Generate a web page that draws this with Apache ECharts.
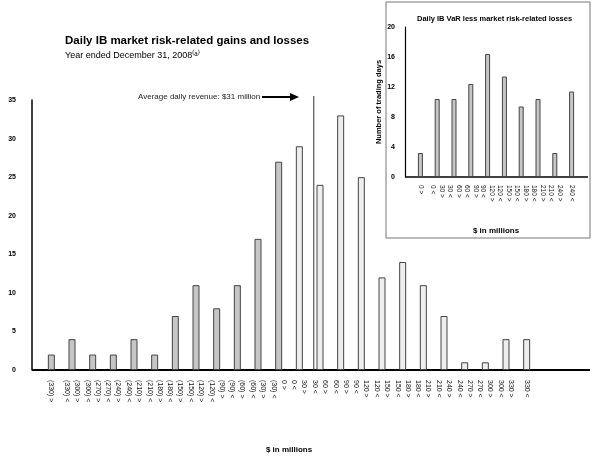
<!DOCTYPE html>
<html>
<head>
<meta charset="utf-8" />
<script src="https://cdn.jsdelivr.net/npm/echarts@6/dist/echarts.min.js"></script>
<style>html,body{margin:0;padding:0;background:#fff}#main{width:595px;height:461px}</style>
</head>
<body>
<div id="main"></div>
<script>
// 主图：损益分布
var mainCats = ['(330) >', '(300) >\n(330) <', '(270) >\n(300) <', '(240) >\n(270) <', '(210) >\n(240) <',
	'(180) >\n(210) <', '(150) >\n(180) <', '(120) >\n(150) <', '(90) >\n(120) <', '(60) >\n(90) <',
	'(30) >\n(60) <', '0 >\n(30) <', '30 >\n0 <', '60 >\n30 <', '90 >\n60 <', '120 >\n90 <',
	'150 >\n120 <', '180 >\n150 <', '210 >\n180 <', '240 >\n210 <', '270 >\n240 <', '300 >\n270 <',
	'330 >\n300 <', '330 <'];
var mainVals = [2, 4, 2, 2, 4, 2, 7, 11, 8, 11, 17, 27, 29, 24, 33, 25, 12, 14, 11, 7, 1, 1, 4, 4];
var mainTicks = [0, 5, 10, 15, 20, 25, 30, 35];
// 小图：VaR 减损失
var insetCats = ['0 >', '30 >\n0 <', '60 >\n30 <', '90 >\n60 <', '120 >\n90 <', '150 >\n120 <',
	'180 >\n150 <', '210 >\n180 <', '240 >\n210 <', '240 <'];
var insetVals = [3.2, 10.4, 10.4, 12.4, 16.4, 13.4, 9.4, 10.4, 3.2, 11.4];
var avgPos = 12.7; // $31 million 平均线位置（类目索引）

var font = 'Liberation Sans Narrow, Liberation Sans, sans-serif';
var chart = echarts.init(document.getElementById('main'));
var option = {
	animation: false,
	textStyle: { fontFamily: font },
	title: [
		{ text: 'Daily IB market risk-related gains and losses', left: 60, top: 30,
			textStyle: { fontSize: 11.5, fontWeight: 'bold', color: '#000', fontFamily: font } },
		{ text: 'Year ended December 31, 2008⁽ᵃ⁾', left: 60, top: 46,
			textStyle: { fontSize: 9, fontWeight: 'normal', color: '#000', fontFamily: font } },
		{ text: 'Daily IB VaR less market risk-related losses', left: 412, top: 10,
			textStyle: { fontSize: 7.5, fontWeight: 'bold', color: '#000', fontFamily: font } }
	],
	grid: [
		{ left: 41, right: 58, top: 100, bottom: 91, outerBoundsMode: 'none' },
		{ left: 412, right: 15, top: 27, bottom: 284, outerBoundsMode: 'none' }
	],
	xAxis: [
		{ type: 'category', gridIndex: 0, data: mainCats,
			axisLine: { show: false }, axisTick: { show: false },
			axisLabel: { rotate: -90, fontSize: 7, color: '#111', interval: 0, lineHeight: 10, margin: 10 },
			name: '$ in millions', nameLocation: 'middle', nameGap: 76,
			nameTextStyle: { fontSize: 8, fontWeight: 'bold', color: '#000' } },
		{ type: 'category', gridIndex: 1, data: insetCats,
			axisLine: { show: false }, axisTick: { show: false },
			axisLabel: { rotate: -90, fontSize: 6.5, color: '#111', interval: 0, lineHeight: 9, margin: 8 },
			name: '$ in millions', nameLocation: 'middle', nameGap: 50,
			nameTextStyle: { fontSize: 8, fontWeight: 'bold', color: '#000' } }
	],
	yAxis: [
		{ type: 'value', gridIndex: 0, min: 0, max: 35, interval: 5, offset: 9,
			axisLine: { show: true, lineStyle: { color: '#000', width: 1.5 } }, axisTick: { show: false },
			splitLine: { show: false },
			axisLabel: { fontSize: 7, fontWeight: 'bold', color: '#000', margin: 16 },
			name: 'Number of trading days', nameLocation: 'middle', nameGap: 24,
			nameTextStyle: { fontSize: 8, fontWeight: 'bold', color: '#000' } },
		{ type: 'value', gridIndex: 1, min: 0, max: 20, interval: 4, offset: 7,
			axisLine: { show: true, lineStyle: { color: '#000', width: 1.2 } }, axisTick: { show: false },
			splitLine: { show: false },
			axisLabel: { fontSize: 7, fontWeight: 'bold', color: '#000', margin: 10 },
			name: 'Number of trading days', nameLocation: 'middle', nameGap: 20,
			nameTextStyle: { fontSize: 7.5, fontWeight: 'bold', color: '#000' } }
	],
	series: [
		{ type: 'bar', xAxisIndex: 0, yAxisIndex: 0, barWidth: 7,
			data: mainVals.map(function (v, i) {
				return { value: v, itemStyle: { color: i < 12 ? '#c6c6c6' : '#eeeeee' } };
			}),
			itemStyle: { borderColor: '#444', borderWidth: 1 } },
		{ type: 'bar', xAxisIndex: 1, yAxisIndex: 1, barWidth: 5, data: insetVals,
			itemStyle: { color: '#c6c6c6', borderColor: '#444', borderWidth: 1 } }
	],
	graphic: [
		{ type: 'rect', shape: { x: 386, y: 2, width: 204, height: 236 }, z: -1,
			style: { fill: '#fff', stroke: '#777', lineWidth: 1 } },
		{ type: 'line', shape: { x1: 32, y1: 370, x2: 590, y2: 370 }, style: { stroke: '#000', lineWidth: 2 } },
		{ type: 'line', shape: { x1: 405, y1: 177, x2: 588, y2: 177 }, style: { stroke: '#000', lineWidth: 1.5 } },
		{ type: 'text', left: 138, top: 93, style: { text: 'Average daily revenue: $31 million', fontSize: 8, fill: '#222', fontFamily: font } },
		{ type: 'line', shape: { x1: 262, y1: 97, x2: 292, y2: 97 }, style: { stroke: '#000', lineWidth: 2 } },
		{ type: 'polygon', shape: { points: [[290, 93], [299, 97], [290, 101]] }, style: { fill: '#000' } }
	]
};
chart.setOption(option);

// 平均线
var p0 = chart.convertToPixel({ xAxisIndex: 0 }, 12);
var p1 = chart.convertToPixel({ xAxisIndex: 0 }, 13);
var ax = p0 + (p1 - p0) * (avgPos - 12);
option.graphic.push({ type: 'line', shape: { x1: ax, y1: 96, x2: ax, y2: 370 }, style: { stroke: '#333', lineWidth: 1 } });
chart.setOption({ graphic: option.graphic });
</script>
</body>
</html>
